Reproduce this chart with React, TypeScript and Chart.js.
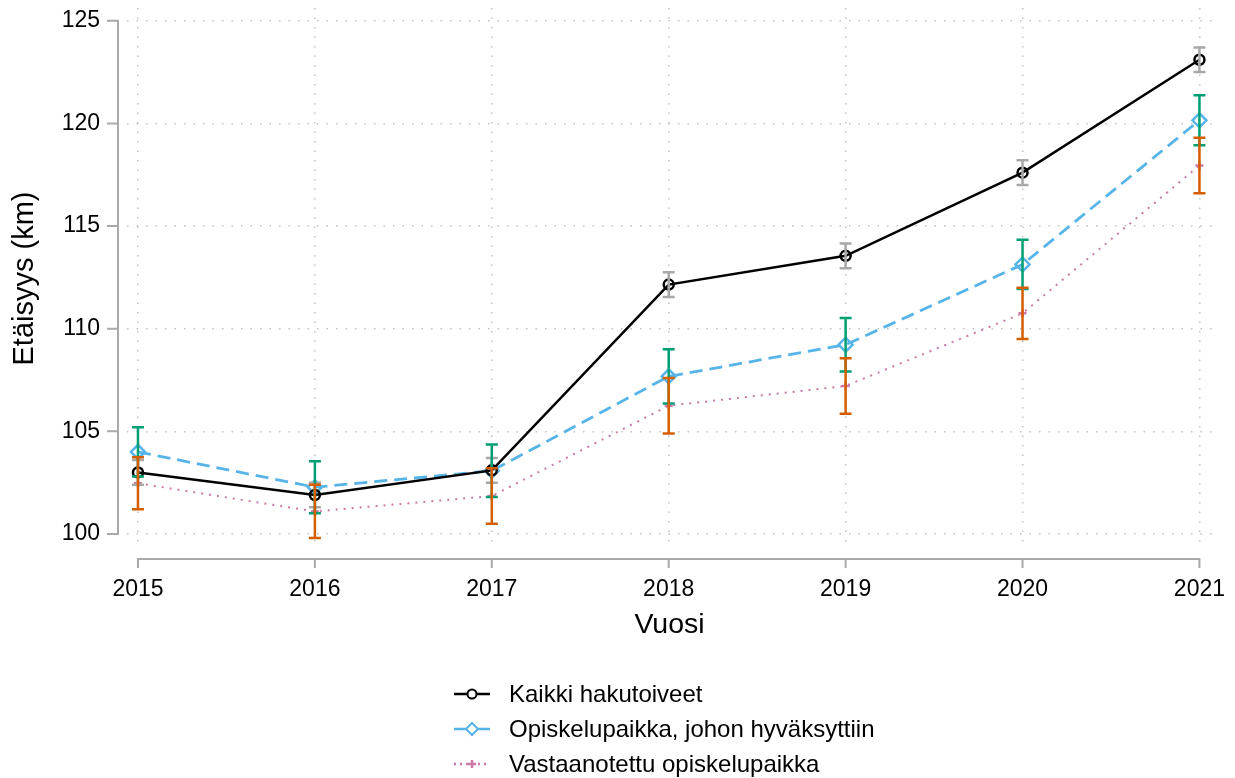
import React, { useEffect, useRef } from "react";
import { Chart, registerables } from "chart.js";

Chart.register(...registerables);

// ---- Data ----
const years = [2015, 2016, 2017, 2018, 2019, 2020, 2021];
const yTicks = [100, 105, 110, 115, 120, 125];

const seriesLabels = [
  "Kaikki hakutoiveet",
  "Opiskelupaikka, johon hyväksyttiin",
  "Vastaanotettu opiskelupaikka",
];

const kaikki = [103.0, 101.9, 103.1, 112.15, 113.55, 117.6, 123.1];
const kaikkiErr = [0.6, 0.6, 0.6, 0.6, 0.6, 0.6, 0.6];

const hyvaksytty = [104.0, 102.28, 103.08, 107.68, 109.22, 113.13, 120.15];
const hyvaksyttyErr = [1.2, 1.27, 1.28, 1.32, 1.3, 1.2, 1.22];

const vastaanotettu = [102.47, 101.1, 101.85, 106.25, 107.21, 110.75, 117.95];
const vastaanotettuErr = [1.27, 1.3, 1.35, 1.35, 1.35, 1.25, 1.35];

// ---- Styles ----
const FONT = "'Liberation Sans', Arial, sans-serif";
const AXIS_GRAY = "#a9a9a9";
const GRID_GRAY = "#c2c2c2";
const COL_BLACK = "#000000";
const COL_BLUE = "#56B4E9";
const COL_PINK = "#CC79A7";
const ERR_GRAY = "#a8a8a8";
const ERR_GREEN = "#009E73";
const ERR_ORANGE = "#D55E00";

if (typeof document !== "undefined") {
  document.body.style.margin = "0";
}

const errorBarPlugin = {
  id: "errorBars",
  afterDatasetsDraw(chart: any) {
    const { ctx } = chart;
    const x = chart.scales.x;
    const y = chart.scales.y;
    const groups = [
      { vals: kaikki, err: kaikkiErr, color: ERR_GRAY },
      { vals: hyvaksytty, err: hyvaksyttyErr, color: ERR_GREEN },
      { vals: vastaanotettu, err: vastaanotettuErr, color: ERR_ORANGE },
    ];
    ctx.save();
    ctx.lineWidth = 2.5;
    ctx.lineCap = "butt";
    groups.forEach((g) => {
      ctx.strokeStyle = g.color;
      years.forEach((yr, i) => {
        const px = x.getPixelForValue(yr);
        const top = y.getPixelForValue(g.vals[i] + g.err[i]);
        const bot = y.getPixelForValue(g.vals[i] - g.err[i]);
        const cap = 6;
        ctx.beginPath();
        ctx.moveTo(px, top);
        ctx.lineTo(px, bot);
        ctx.moveTo(px - cap, top);
        ctx.lineTo(px + cap, top);
        ctx.moveTo(px - cap, bot);
        ctx.lineTo(px + cap, bot);
        ctx.stroke();
      });
    });
    ctx.restore();
  },
};

const axesPlugin = {
  id: "offsetAxes",
  beforeDatasetsDraw(chart: any) {
    const { ctx, chartArea } = chart;
    const x = chart.scales.x;
    const y = chart.scales.y;
    ctx.save();
    ctx.strokeStyle = AXIS_GRAY;
    ctx.lineWidth = 2;
    ctx.lineCap = "butt";
    // y axis
    const ax = chartArea.left - 9;
    const yTop = y.getPixelForValue(yTicks[yTicks.length - 1]);
    const yBot = y.getPixelForValue(yTicks[0]);
    ctx.beginPath();
    ctx.moveTo(ax, yTop - 1);
    ctx.lineTo(ax, yBot + 1);
    yTicks.forEach((t) => {
      const py = y.getPixelForValue(t);
      ctx.moveTo(ax - 11, py);
      ctx.lineTo(ax, py);
    });
    ctx.stroke();
    // x axis
    const ay = chartArea.bottom + 10;
    const xL = x.getPixelForValue(years[0]);
    const xR = x.getPixelForValue(years[years.length - 1]);
    ctx.beginPath();
    ctx.moveTo(xL - 1, ay);
    ctx.lineTo(xR + 1, ay);
    years.forEach((t) => {
      const px = x.getPixelForValue(t);
      ctx.moveTo(px, ay);
      ctx.lineTo(px, ay + 9);
    });
    ctx.stroke();
    ctx.restore();
  },
};

const legendItems = [
  { label: seriesLabels[0], color: COL_BLACK, dash: "", marker: "circle" },
  { label: seriesLabels[1], color: COL_BLUE, dash: "", marker: "diamond" },
  { label: seriesLabels[2], color: COL_PINK, dash: "2 4", marker: "cross" },
];

function LegendSymbol({ color, dash, marker }: { color: string; dash: string; marker: string }) {
  return (
    <svg width={38} height={28} style={{ display: "block" }}>
      <line x1={0} y1={14} x2={36} y2={14} stroke={color} strokeWidth={2.5} strokeDasharray={dash || undefined} />
      {marker === "circle" && <circle cx={18} cy={14} r={4.5} fill="#fff" stroke={color} strokeWidth={2} />}
      {marker === "diamond" && (
        <polygon points="18,8 24,14 18,20 12,14" fill="#fff" stroke={color} strokeWidth={2} />
      )}
      {marker === "cross" && (
        <g stroke={color} strokeWidth={2.5}>
          <line x1={14} y1={14} x2={22} y2={14} />
          <line x1={18} y1={10} x2={18} y2={18} />
        </g>
      )}
    </svg>
  );
}

const PAGE_W = 1235;
const PAGE_H = 778;
const OFFSET = 8;
const CANVAS_W = 1219;
const CANVAS_H = 762;

export default function App() {
  const canvasRef = useRef<HTMLCanvasElement | null>(null);

  useEffect(() => {
    document.body.style.margin = "0";
    if (!canvasRef.current) return;
    const chart = new Chart(canvasRef.current, {
      type: "line",
      data: {
        datasets: [
          {
            label: seriesLabels[0],
            data: years.map((yr, i) => ({ x: yr, y: kaikki[i] })),
            borderColor: COL_BLACK,
            borderWidth: 2.5,
            pointStyle: "circle",
            pointRadius: 5,
            pointBorderWidth: 2.5,
            pointBorderColor: COL_BLACK,
            pointBackgroundColor: "rgba(0,0,0,0)",
            tension: 0,
          },
          {
            label: seriesLabels[1],
            data: years.map((yr, i) => ({ x: yr, y: hyvaksytty[i] })),
            borderColor: COL_BLUE,
            borderWidth: 2.8,
            borderDash: [13, 7],
            pointStyle: "rectRot",
            pointRadius: 7,
            pointBorderWidth: 2.5,
            pointBorderColor: COL_BLUE,
            pointBackgroundColor: "rgba(0,0,0,0)",
            tension: 0,
          },
          {
            label: seriesLabels[2],
            data: years.map((yr, i) => ({ x: yr, y: vastaanotettu[i] })),
            borderColor: COL_PINK,
            borderWidth: 2,
            borderDash: [2, 6],
            pointStyle: "cross",
            pointRadius: 4,
            pointBorderWidth: 2.5,
            pointBorderColor: COL_PINK,
            pointBackgroundColor: "rgba(0,0,0,0)",
            tension: 0,
          },
        ],
      },
      options: {
        animation: false,
        responsive: false,
        maintainAspectRatio: false,
        layout: { autoPadding: false, padding: { left: 0, top: 0, right: 15, bottom: CANVAS_H - 541 - 93 } },
        plugins: {
          legend: { display: false },
          tooltip: { enabled: false },
        },
        scales: {
          x: {
            type: "linear",
            min: 2014.938,
            max: 2021.071,
            afterBuildTicks: (scale: any) => {
              scale.ticks = years.map((v) => ({ value: v }));
            },
            afterFit: (scale: any) => {
              scale.height = 93;
              scale.paddingLeft = 0;
              scale.paddingRight = 0;
              scale.paddingTop = 0;
              scale.paddingBottom = 0;
            },
            grid: { color: GRID_GRAY, lineWidth: 1.5, drawTicks: false },
            border: { display: false, dash: [1.5, 8] },
            ticks: {
              color: "#000",
              padding: 27,
              font: { family: FONT, size: 23 },
              maxRotation: 0,
              autoSkip: false,
              callback: (v: any) => String(v),
            },
            title: {
              display: true,
              text: "Vuosi",
              color: "#000",
              font: { family: FONT, size: 28.5 },
              padding: { top: 0, bottom: 0 },
            },
          },
          y: {
            type: "linear",
            min: 99.27,
            max: 125.62,
            afterBuildTicks: (scale: any) => {
              scale.ticks = yTicks.map((v) => ({ value: v }));
            },
            afterFit: (scale: any) => {
              scale.width = 119;
              scale.paddingLeft = 0;
              scale.paddingRight = 0;
              scale.paddingTop = 0;
              scale.paddingBottom = 0;
            },
            grid: { color: GRID_GRAY, lineWidth: 1.5, drawTicks: false },
            border: { display: false, dash: [1.5, 8] },
            ticks: {
              color: "#000",
              padding: 27,
              font: { family: FONT, size: 23 },
              callback: (v: any) => String(v),
            },
            title: {
              display: true,
              text: "Etäisyys (km)",
              color: "#000",
              font: { family: FONT, size: 29 },
              padding: { top: 0, bottom: 0 },
            },
          },
        },
      },
      plugins: [axesPlugin, errorBarPlugin],
    } as any);
    return () => chart.destroy();
  }, []);

  // legend row centres in page coordinates
  const rowCenters = [694, 729, 764];

  return (
    <div style={{ position: "relative", width: PAGE_W, height: PAGE_H, overflow: "hidden" }}>
      <canvas
        ref={canvasRef}
        width={CANVAS_W}
        height={CANVAS_H}
        style={{ display: "block", position: "absolute", left: OFFSET, top: OFFSET }}
      />
      {legendItems.map((it, i) => (
        <div
          key={it.label}
          style={{
            position: "absolute",
            left: 454,
            top: rowCenters[i] - 15,
            height: 30,
            display: "flex",
            alignItems: "center",
            fontFamily: FONT,
            fontSize: 24,
            lineHeight: "30px",
            color: "#000",
            whiteSpace: "nowrap",
          }}
        >
          <LegendSymbol color={it.color} dash={it.dash} marker={it.marker} />
          <span style={{ marginLeft: 17 }}>{it.label}</span>
        </div>
      ))}
    </div>
  );
}
